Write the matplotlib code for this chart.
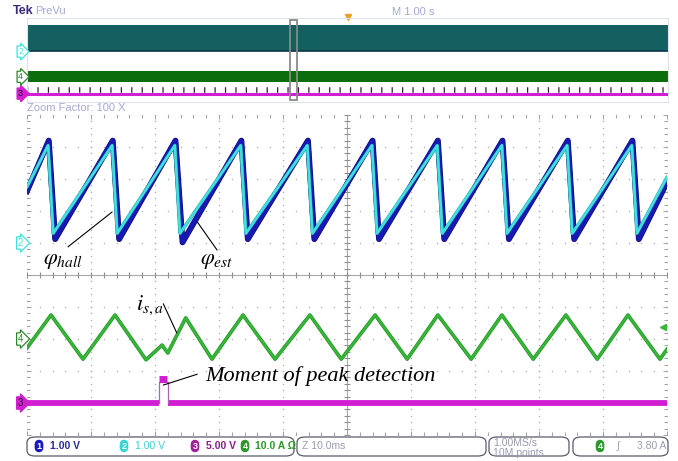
import matplotlib
matplotlib.use('Agg')
import matplotlib.pyplot as plt
import matplotlib.patheffects as pe
from matplotlib.patches import FancyBboxPatch, Rectangle
from matplotlib.ticker import MultipleLocator
import numpy as np

W, H = 678, 461

# channel colours
CH1 = '#1818b4'
CH2 = '#40e0e0'
CH3 = '#d21ed2'
CH4 = '#36b836'
LAV = '#a4a8d4'
DOT = '#b4b4b4'

# vertical offsets (div) and scales (units/div)
OFF2, OFF4, OFF3 = 1.0, -2.0, -4.0
VDIV1, VDIV2, VDIV3, ADIV4 = 1.0, 1.0, 5.0, 10.0
TRIG_LEVEL = 3.80  # A, ch4

# ch2: hall angle [V] vs time [ms]
hall_t = [0.0, 3.3, 4.1, 13.3, 14.1, 23.1, 23.9, 33.4, 34.2, 43.8, 44.6,
          53.9, 54.7, 64.1, 64.9, 74.2, 75.0, 84.4, 85.2, 94.5, 95.3, 100.0]
hall_v = [1.75, 3.05, 0.30, 3.05, 0.30, 3.05, 0.30, 3.05, 0.30, 3.05, 0.30,
          3.05, 0.30, 3.05, 0.30, 3.05, 0.30, 3.05, 0.30, 3.05, 0.30, 2.05]

# ch1: estimated angle [V] vs time [ms]
est_t = [0.0, 3.4, 4.4, 13.4, 14.4, 23.2, 24.3, 33.5, 34.5, 43.9, 44.9,
         54.0, 55.0, 64.2, 65.2, 74.3, 75.3, 84.5, 85.5, 94.6, 95.6, 100.0]
est_v = [1.62, 3.20, 0.12, 3.20, 0.12, 3.20, 0.02, 3.20, 0.12, 3.20, 0.12,
         3.20, 0.12, 3.20, 0.12, 3.20, 0.12, 3.20, 0.12, 3.20, 0.12, 1.90]

# ch4: phase current i_s,a [A] vs time [ms]
cur_t = [0.0, 3.75, 8.75, 13.75, 18.6, 21.1, 22.0, 24.8, 28.9, 33.75, 38.75,
         44.2, 49.1, 54.4, 59.4, 64.2, 69.4, 74.2, 79.1, 84.2, 89.1, 93.9,
         98.9, 100.0]
cur_a = [-2.8, 7.5, -6.3, 7.5, -6.5, -1.9, -4.4, 6.6, -6.3, 7.5, -6.3,
         7.5, -6.3, 7.5, -6.3, 7.5, -6.3, 7.5, -6.3, 7.5, -6.3, 7.5,
         -6.3, -3.2]

# ch3: peak detection flag [V]
pulse_on, pulse_off = 20.6, 22.0
flag_high = 3.3

plt.rcParams['mathtext.fontset'] = 'stix'
plt.rcParams['lines.scale_dashes'] = False
fig = plt.figure(figsize=(W / 100, H / 100), dpi=100)
fig.patch.set_facecolor('white')
ui = ['Liberation Sans', 'DejaVu Sans']


def fx(x):
    return x / W


def fy(y):
    return 1 - y / H


# ---------- header ----------
fig.text(fx(13), fy(11), 'Tek', family=ui, fontweight='bold', fontsize=9,
         color='#3c2a7a', va='center')
fig.text(fx(35), fy(11), 'PreVu', family=ui, fontsize=8, color=LAV, va='center')
fig.text(fx(392), fy(12), 'M 1.00 s', family=ui, fontsize=8, color=LAV, va='center')
fig.text(fx(27), fy(108), 'Zoom Factor: 100 X', family=ui, fontsize=8,
         color=LAV, va='center')

# ---------- record overview ----------
ov = fig.add_axes([fx(27), fy(102), (668 - 27) / W, 84 / H])
ov.set_xlim(0, 10)
ov.set_ylim(-5, 5)
ov.set_xticks([])
ov.set_yticks([])
for s in ov.spines.values():
    s.set_color('#dde2ee')
    s.set_linewidth(0.8)

all_ang = hall_v + est_v
ov.fill_between([0, 10], OFF2 + min(all_ang) / VDIV2, OFF2 + max(all_ang) / VDIV2,
                color='#145f60', lw=0)
ov.plot([0, 10], [OFF2 + min(all_ang) / VDIV2] * 2, color='#0b3546', lw=1.2)
ov.fill_between([0, 10], OFF4 + min(cur_a) / ADIV4, OFF4 + max(cur_a) / ADIV4,
                color='#0b6e0b', lw=0)
ov.plot([0, 10], [OFF3, OFF3], color=CH3, lw=2.2, zorder=3)
# sample spikes above the flag trace
ov.plot([0, 10], [OFF3 + 0.45] * 2, color='#3a1a3a', lw=4.0,
        dashes=(0.9, 6.6), solid_capstyle='butt', dash_capstyle='butt', zorder=2)
zoom_c = 4.16
ov.add_patch(Rectangle((zoom_c - 0.05, -4.8), 0.1, 9.6, fill=False,
                       ec='#8a8a8a', lw=1.3, clip_on=False, zorder=4))
ov.plot([5.0], [5.15], marker='v', color='#f0a020', ms=5, clip_on=False)

# ---------- main graticule ----------
ax = fig.add_axes([fx(27), fy(435), 640 / W, 320 / H])
ax.set_xlim(0, 100)
ax.set_ylim(-5, 5)
for s in ax.spines.values():
    s.set_visible(False)
ax.xaxis.set_major_locator(MultipleLocator(10))
ax.xaxis.set_minor_locator(MultipleLocator(2))
ax.yaxis.set_major_locator(MultipleLocator(1))
ax.yaxis.set_minor_locator(MultipleLocator(0.2))
ax.tick_params(which='both', direction='in', top=True, right=True,
               labelbottom=False, labelleft=False, color='#a0a0a0', width=0.7)
ax.tick_params(which='major', length=3)
ax.tick_params(which='minor', length=2.5)

vy = np.arange(-5, 5.001, 0.2)
hx = np.arange(0, 100.001, 2)
for gx in range(0, 101, 10):
    ax.plot([gx] * len(vy), vy, ls='none', marker='o', ms=1.1, color=DOT,
            mec='none', zorder=1)
for gy in range(-5, 6):
    ax.plot(hx, [gy] * len(hx), ls='none', marker='o', ms=1.1, color=DOT,
            mec='none', zorder=1)
ax.axhline(0, color='#a8a8a8', lw=0.8, zorder=1)
ax.axvline(50, color='#a8a8a8', lw=0.8, zorder=1)
ax.plot(hx, [0] * len(hx), ls='none', marker='|', ms=5, mew=0.8,
        color='#909090', zorder=1)
ax.plot([50] * len(vy), vy, ls='none', marker='_', ms=5, mew=0.8,
        color='#909090', zorder=1)

# ---------- traces ----------
est_y = [OFF2 + v / VDIV1 for v in est_v]
hall_y = [OFF2 + v / VDIV2 for v in hall_v]
ax.plot(est_t, est_y, color=CH1, lw=3.4, zorder=3,
        path_effects=[pe.Stroke(linewidth=4.2, foreground='#0c0c70'), pe.Normal()])
ax.plot(hall_t, hall_y, color=CH2, lw=1.8, zorder=4,
        path_effects=[pe.Stroke(linewidth=2.4, foreground='#249aa8'), pe.Normal()])

cur_y = [OFF4 + a / ADIV4 for a in cur_a]
ax.plot(cur_t, cur_y, color=CH4, lw=1.6, zorder=3,
        path_effects=[pe.Stroke(linewidth=2.6, foreground='#23932a'), pe.Normal()])

flag_y = OFF3 + flag_high / VDIV3
ax.plot([0, pulse_on], [OFF3, OFF3], color=CH3, lw=4.2, zorder=3,
        solid_capstyle='butt')
ax.plot([pulse_off, 100], [OFF3, OFF3], color=CH3, lw=4.2, zorder=3,
        solid_capstyle='butt')
ax.plot([pulse_on, pulse_on, pulse_off, pulse_off],
        [OFF3, flag_y, flag_y, OFF3], color='#b060b0', lw=0.9, zorder=3)
ax.plot([pulse_on + 0.1, pulse_off - 0.1], [flag_y + 0.1] * 2, color=CH3,
        lw=5, zorder=3, solid_capstyle='butt')

# trigger level marker
ax.plot([99.4], [OFF4 + TRIG_LEVEL / ADIV4], marker='<', ms=4, color=CH4,
        clip_on=False, zorder=5)

# channel ground markers
ytr = ax.get_yaxis_transform()
oytr = ov.get_yaxis_transform()
for a, tr, sz in ((ax, ytr, 7), (ov, oytr, 6.5)):
    a.text(-0.006, OFF2, '2', transform=tr, ha='right', va='center',
           fontsize=sz, color=CH2, family=ui, clip_on=False,
           bbox=dict(boxstyle='rarrow,pad=0.12', fc='white', ec=CH2, lw=0.9))
    a.text(-0.006, OFF4, '4', transform=tr, ha='right', va='center',
           fontsize=sz, color='#2a8a2a', family=ui, clip_on=False,
           bbox=dict(boxstyle='rarrow,pad=0.12', fc='white', ec='#2a8a2a', lw=0.9))
    a.text(-0.006, OFF3, '3', transform=tr, ha='right', va='center',
           fontsize=sz, color='#2a0a2a', family=ui, clip_on=False,
           bbox=dict(boxstyle='rarrow,pad=0.12', fc=CH3, ec=CH3, lw=0.9))

# ---------- annotations ----------
lbl = dict(color='black', zorder=6)
line = dict(arrowstyle='-', color='black', lw=0.8, shrinkA=0, shrinkB=0)
ax.annotate('', xy=(13.3, 1.97), xytext=(6.4, 0.88), arrowprops=line)
ax.text(5.6, 0.45, r'$\varphi_{hall}$', fontsize=16, ha='center', va='center', **lbl)
ax.annotate('', xy=(26.6, 1.66), xytext=(29.7, 0.78), arrowprops=line)
ax.text(29.7, 0.45, r'$\varphi_{est}$', fontsize=16, ha='center', va='center', **lbl)
ax.annotate('', xy=(23.4, -1.81), xytext=(21.3, -0.9), arrowprops=line)
ax.text(19.2, -0.95, r'$i_{s,a}$', fontsize=16, ha='center', va='center', **lbl)
ax.annotate('', xy=(21.3, -3.44), xytext=(26.6, -3.1), arrowprops=line)
ax.text(27.8, -3.15, 'Moment of peak detection', fontsize=16, style='italic',
        family='Liberation Serif', ha='left', va='center', **lbl)

# ---------- status bar ----------
def box(x0, x1):
    fig.add_artist(FancyBboxPatch((fx(x0), fy(456)), fx(x1 - x0), 19 / H,
                                  boxstyle='round,pad=0,rounding_size=0.012',
                                  transform=fig.transFigure, fc='white',
                                  ec='#5a5a6a', lw=0.9))


def chip(x, num, fc):
    fig.text(fx(x), fy(446), num, color='white', fontsize=6.5, fontweight='bold',
             family=ui, ha='center', va='center',
             bbox=dict(boxstyle='round,pad=0.2,rounding_size=0.55', fc=fc, ec='none'))


sb = dict(fontsize=7.5, family=ui, va='center')
box(27, 294)
box(297, 486)
box(489, 569)
box(573, 668)
chip(39, '1', '#1a1ab8')
fig.text(fx(50), fy(446), '1.00 V', color='#2a2a9a', fontweight='bold', **sb)
chip(124, '2', '#3ad2d2')
fig.text(fx(135), fy(446), '1.00 V', color='#44cccc', **sb)
chip(195, '3', '#a0209a')
fig.text(fx(206), fy(446), '5.00 V', color='#8a1a8a', fontweight='bold', **sb)
chip(245, '4', '#2a9a2a')
fig.text(fx(255), fy(446), '10.0 A Ω', color='#2a9a2a', fontweight='bold', **sb)
fig.text(fx(302), fy(446), 'Z 10.0ms', color='#9a9ab0', **sb)
fig.text(fx(493), fy(443), '1.00MS/s', color='#9a9ab0', **sb)
fig.text(fx(493), fy(453), '10M points', color='#9a9ab0', **sb)
chip(600, '4', '#2a9a2a')
fig.text(fx(617), fy(446), '∫', color='#9a9ab0', **sb)
fig.text(fx(637), fy(446), '3.80 A', color='#9a9ab0', **sb)

fig.savefig('out.png', dpi=100, facecolor='white')
